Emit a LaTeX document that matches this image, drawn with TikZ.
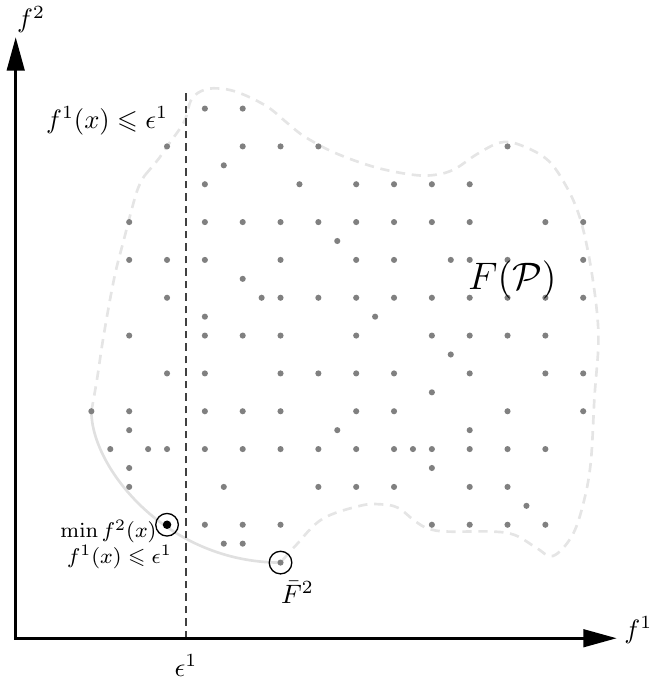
\documentclass[tikz,border=0pt]{standalone}
\usepackage{amssymb}
\usetikzlibrary{arrows.meta}
\begin{document}
\begin{tikzpicture}[x=0.25cm,y=0.25cm,
  axis/.style={line width=1pt,{Triangle[length=12.5pt,width=6.6pt]}-{Triangle[length=12.5pt,width=6.6pt]}},
  epsline/.style={line width=0.5pt,black!75,dash pattern=on 2.8pt off 1.9pt},
  region/.style={line width=1pt,black!10,dash pattern=on 3.5pt off 2.5pt},
  front/.style={line width=1pt,black!12},
  pt/.style={circle,fill=gray,inner sep=0pt,minimum size=2.3pt},
  bigpt/.style={circle,fill=black,inner sep=0pt,minimum size=3.2pt},
  ring/.style={circle,draw=black,line width=0.5pt,inner sep=0pt,minimum size=8.5pt},
  lbl/.style={inner sep=0pt}]
\useasboundingbox (-0.83,-2.26) rectangle (33.52,33.74);

% region boundary
\draw[region] plot[smooth,tension=0.6] coordinates {(4,12) (4.3,13.7) (4.65,16) (5.2,19) (5.7,21) (6.4,23.6) (6.85,24.5)};
\draw[region] plot[smooth,tension=0.6] coordinates {(6.85,24.5) (7.6,25.4) (8,26) (8.9,27.3) (9.3,28.5) (10,29.0) (10.9,29.05) (11.9,28.8) (13.3,28.1) (14.4,27.2) (15.3,26.5) (16.9,25.65) (19,24.9) (21,24.5) (22.2,24.5) (23.2,24.8) (24.4,25.6) (25.6,26.2) (26.6,26.1) (28.1,25.3) (29.1,23.9) (29.8,22.3) (30.3,20.2) (30.7,17.5) (30.8,15.5) (30.6,12.8) (30.4,9.3) (30,7.1) (29.4,5.4) (28.4,4.35) (27.5,4.8) (26.4,5.45) (25.2,5.64) (22.8,5.64) (21.8,5.8) (21.1,6.2) (20.2,6.9) (19.3,7.08) (18.2,7.0) (16.2,6.3) (14.8,4.9) (14,4)};
% Pareto front part
\draw[front] (4,12) .. controls (4,9) and (8,4) .. (14,4);

% epsilon line
\coordinate (e0) at (9,0);
\coordinate (e1) at (9,29);
\draw[epsline] (e0) -- (e1);

% axes
\coordinate (O) at (0,0);
\coordinate (xend) at (31.77,0);
\coordinate (yend) at (0,31.77);
\draw[axis] (yend) -- (O) -- (xend);

% points
\foreach \j/\l in {28/{10,12}, 26/{8,12,14,16,26}, 25/{11}, 24/{10,15,18,20,22,24},
  22/{6,10,12,14,16,18,20,22,24,28,30}, 21/{17}, 20/{6,8,10,14,18,20,23,24,26,30},
  19/{12}, 18/{8,13,14,16,18,20,22,24,26,28,30}, 17/{10,19}, 16/{6,10,12,14,18,22,24,26,28},
  15/{23}, 14/{8,10,14,16,18,20,24,28,30}, 13/{22}, 12/{4,6,10,12,14,18,20,26,30},
  11/{6,17,24}, 10/{5,7,8,10,12,14,16,18,20,21,22,24,26,28}, 9/{6,22},
  8/{6,11,16,18,20,24,26}, 7/{27}, 6/{10,12,14,22,24,26,28}, 5/{11,12}, 4/{14}}{
  \foreach \i in \l {\node[pt] (d\i-\j) at (\i,\j) {};}
}
\node[bigpt] (minpt) at (8,6) {};
\node[ring] (minring) at (8,6) {};
\node[ring] (fbarring) at (14,4) {};

% labels
\node[lbl,anchor=base east] (cons) at (8.08,26.96) {$f^1(x)\leqslant\epsilon^1$};
\node[lbl,anchor=base,font=\Large] (FP) at (26.25,18.41) {$F(\mathcal{P})$};
\node[lbl,anchor=base] (epslbl) at (9,-2.0) {$\epsilon^1$};
\node[lbl,anchor=base west] (f1lbl) at (32.15,0) {$f^1$};
\node[lbl,anchor=base west] (f2lbl) at (0.05,32.26) {$f^2$};
\node[lbl,anchor=base west] (fbarlbl) at (14.0,1.86) {$\bar{F}^2$};
\node[lbl,anchor=base west,align=left,font=\fontsize{8.4}{8.6}\selectfont] (minlbl) at (2.34,3.96)
  {$\min f^2(x)$\\\hspace*{2.5pt}$f^1(x)\leqslant\epsilon^1$};
\end{tikzpicture}
\end{document}
